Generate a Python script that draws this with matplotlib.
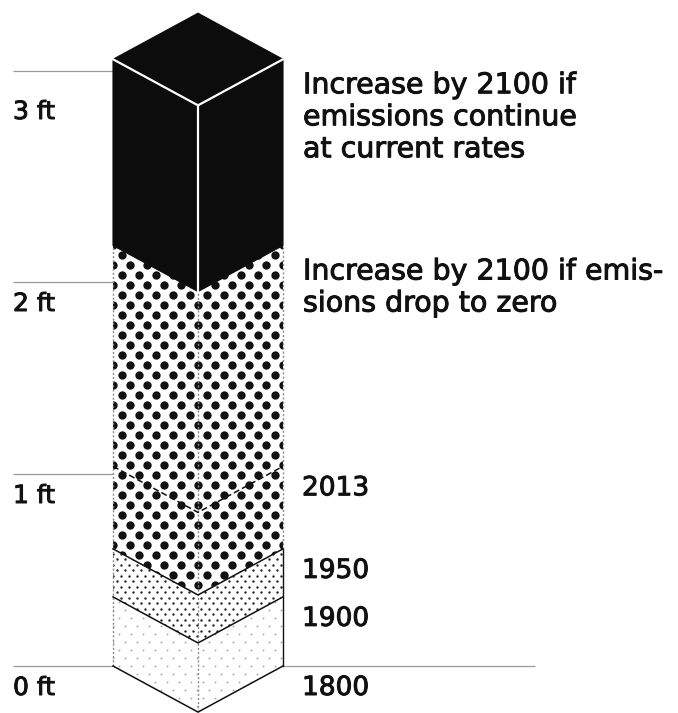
import numpy as np
import matplotlib
matplotlib.use("Agg")
import matplotlib.pyplot as plt
from matplotlib.patches import Polygon
import matplotlib.patheffects as pe

# ---------------- data (feet of sea-level rise above the 1800 level) -------------
milestones = ["1800", "1900", "1950", "2013"]
milestone_ft = [0.0, 0.36, 0.61, 1.04]
scenario_labels = ["Increase by 2100 if emis-\nsions drop to zero",
                   "Increase by 2100 if\nemissions continue\nat current rates"]
scenario_ft = [2.19, 3.16]
axis_labels = ["0 ft", "1 ft", "2 ft", "3 ft"]
axis_ft = [0, 1, 2, 3]
gridline_ft = [0.0, 1.0, 2.0, 3.1]

# ---------------- layout ----------------
W, H = 678, 713
ZERO_PX = 666.0          # pixel row of 0 ft
PX_PER_FT = 192.0
L, C, R = 113.0, 198.0, 283.0   # column left / front / right x (px)
D = 0.24                 # isometric drop (ft)
INK = "#111111"
FONT = "DejaVu Sans"
HEAVY = [pe.withStroke(linewidth=0.7, foreground=INK)]


def px2ft(p):
    return p / PX_PER_FT


fig = plt.figure(figsize=(W / 100, H / 100), dpi=100)
ax = fig.add_axes([0, 0, 1, 1])
ax.set_xlim(0, W)
ax.set_ylim((ZERO_PX - H) / PX_PER_FT, ZERO_PX / PX_PER_FT)
ax.axis("off")

# gridlines
ax.hlines(gridline_ft, 13, L, color="#9a9a9a", lw=0.9, zorder=1)
ax.hlines([gridline_ft[0]], R, 535, color="#9a9a9a", lw=0.9, zorder=1)


def block(b, t):
    return [(L, b), (C, b - D), (R, b), (R, t), (C, t - D), (L, t)]


def dot_texture(b, t, period, row_step, size, color, z):
    poly = Polygon(block(b, t), closed=True, facecolor="white",
                   edgecolor="none", zorder=z)
    ax.add_patch(poly)
    ys = np.arange(b - D - 0.05, t + 0.05, px2ft(row_step))
    xs_all, ys_all = [], []
    for i, y in enumerate(ys):
        off = (period / 2) if i % 2 else 0.0
        xs = np.arange(L - period + off, R + period, period)
        xs_all.append(xs)
        ys_all.append(np.full_like(xs, y))
    sc = ax.scatter(np.concatenate(xs_all), np.concatenate(ys_all), s=size,
                    c=color, marker="o", linewidths=0, zorder=z + 0.1)
    sc.set_clip_path(poly)


# layers
lv = milestone_ft + [scenario_ft[0]]
dot_texture(lv[0], lv[1], 12, 8, 1.8, "#a8a8a8", 2)       # 1800-1900
dot_texture(lv[1], lv[2], 8, 5.5, 3.0, "#222222", 2)      # 1900-1950
dot_texture(lv[2], lv[4], 17, 10, 36, INK, 2)             # 1950-2100 zero

# black block (current rates)
top = scenario_ft[1]
zb = scenario_ft[0]
ax.add_patch(Polygon([(L, zb), (C, zb - D), (R, zb), (R, top), (C, top + D), (L, top)],
                     closed=True, facecolor="#0c0c0c", edgecolor="#0c0c0c", lw=0.8, zorder=4))
ax.plot([L, C, R], [top, top - D, top], color="white", lw=1.6, zorder=5)
ax.plot([C, C], [top - D, zb - D], color="white", lw=1.6, zorder=5)

# edges of lower column
ax.plot([L, L], [0, zb], color="#8a8a8a", lw=1.0, ls=(0, (1.5, 1.5)), zorder=3)
ax.plot([C, C], [-D, zb - D], color="#8a8a8a", lw=1.0, ls=(0, (1.5, 1.5)), zorder=3)
ax.plot([R, R], [0, lv[2]], color=INK, lw=1.0, zorder=3)
ax.plot([R, R], [lv[2], zb], color="#8a8a8a", lw=1.0, ls=(0, (1.5, 1.5)), zorder=3)

# boundary chevrons
for v, ls in zip(milestone_ft, ["-", "-", "-", (0, (4, 2))]):
    ax.plot([L, C, R], [v, v - D, v], color=INK, lw=1.1, ls=ls, zorder=3.5)

# left axis labels
for lab, v in zip(axis_labels, axis_ft):
    ax.text(13, v - px2ft(29), lab, fontsize=18, family=FONT, color=INK,
            ha="left", va="baseline", path_effects=HEAVY)

# milestone labels
for lab, v in zip(milestones, milestone_ft):
    ax.text(302, v - px2ft(29), lab, fontsize=19, family=FONT, color=INK,
            ha="left", va="baseline", path_effects=HEAVY)

# scenario labels
for lab, v in zip(scenario_labels, scenario_ft):
    for i, line in enumerate(lab.split("\n")):
        ax.text(303, v - px2ft(34 + 32 * i), line, fontsize=20.5, family=FONT,
                color=INK, ha="left", va="baseline", path_effects=HEAVY)

fig.savefig("out.png", dpi=100, facecolor="white")
